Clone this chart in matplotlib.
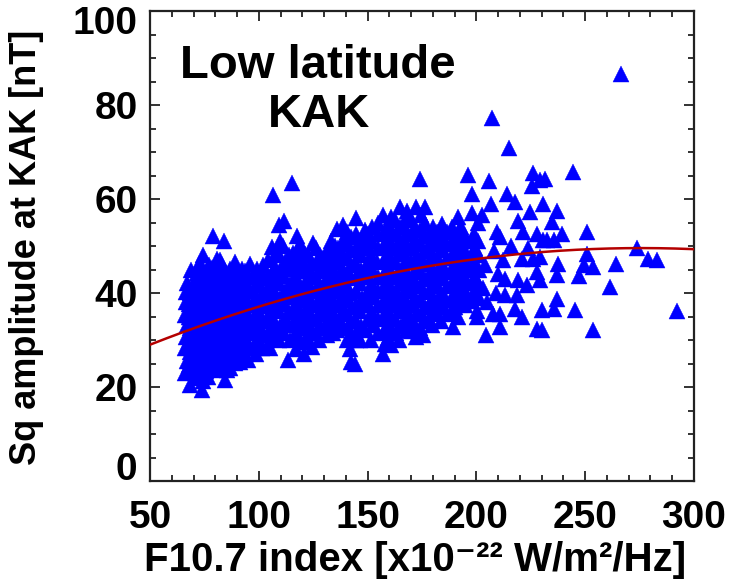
import numpy as np
import matplotlib
matplotlib.use("Agg")
import matplotlib.pyplot as plt
from matplotlib.ticker import MultipleLocator
from matplotlib.transforms import ScaledTranslation

plt.rcParams['font.family'] = ['Liberation Sans', 'DejaVu Sans']
plt.rcParams['font.weight'] = 'bold'

# ---- data (F10.7 index, Sq amplitude at KAK) ----
f107_low = [
    66.3, 66.8, 65.9, 66.5, 67.0, 66.2, 66.7, 66.4, 67.2,
    68.4, 69.2, 68.8, 69.5, 68.6, 69.0, 69.4, 68.9, 69.6, 68.7,
    71.5, 72.3, 71.8, 72.6, 71.9, 72.2, 71.6, 72.4, 72.0, 71.7, 72.5,
    73.8, 74.5, 74.2, 74.8, 74.0, 74.6, 74.3, 74.9, 74.1, 74.4, 74.5,
    76.6, 77.3, 76.9, 77.5, 76.8, 77.1, 77.4, 76.7, 77.2,
    79.9, 79.3, 80.0, 79.6, 79.2, 79.8, 79.4, 80.1, 80.6, 79.1,
    81.6, 82.3, 81.9, 82.5, 82.1, 81.7, 82.4, 81.8, 82.2,
    84.5, 85.2, 84.1, 84.8, 84.3, 84.9, 84.2, 84.7, 84.4, 84.2,
    86.6, 87.3, 86.9, 87.4, 86.8, 87.1, 87.5, 86.7,
    89.2, 89.8, 89.4, 89.9, 89.1, 89.6, 89.3, 89.0,
    91.4, 92.3, 91.8, 92.5, 92.0, 91.7, 92.4, 92.1,
    95.2, 96.0, 95.4, 95.8, 95.3, 95.9, 95.6, 96.0,
    98.6, 99.3, 98.9, 99.5, 98.8, 99.2, 99.4,
    101.6, 102.3, 101.9, 102.4, 101.8, 102.2, 102.0,
    103.6, 104.3, 103.9, 104.4, 103.8, 104.2, 104.0,
    105.1, 105.9, 106.4, 105.6, 106.2, 105.8, 106.1, 105.9,
]
sq_low = [
    23.0, 25.5, 28.2, 30.6, 33.1, 35.4, 38.0, 40.3, 42.1,
    20.4, 23.1, 26.0, 28.4, 31.2, 33.6, 36.1, 38.7, 41.2, 45.0,
    22.2, 24.6, 27.1, 29.4, 32.0, 34.7, 37.2, 39.6, 42.1, 44.3, 46.2,
    19.3, 21.2, 24.1, 27.0, 30.1, 33.0, 36.2, 39.1, 42.0, 45.1, 48.0,
    22.1, 25.0, 28.1, 31.0, 34.1, 37.0, 40.2, 43.1, 46.0,
    23.6, 26.1, 29.0, 32.2, 35.0, 38.1, 41.0, 44.2, 47.3, 52.1,
    24.0, 27.1, 30.0, 33.2, 36.0, 39.1, 42.1, 45.0, 47.1,
    21.4, 23.6, 26.5, 29.6, 32.4, 35.6, 38.5, 41.4, 44.6, 51.1,
    24.1, 27.0, 30.2, 33.0, 36.1, 39.0, 42.2, 45.1,
    25.1, 28.0, 31.1, 34.0, 37.1, 40.0, 43.2, 46.6,
    25.3, 28.1, 31.0, 34.2, 37.0, 40.1, 43.0, 45.2,
    25.7, 28.5, 31.6, 34.4, 37.6, 40.4, 43.5, 46.2,
    27.1, 30.0, 33.1, 36.0, 39.2, 42.0, 45.1,
    28.2, 31.1, 34.0, 37.2, 40.0, 43.1, 46.0,
    28.5, 31.5, 34.6, 37.4, 40.6, 43.4, 47.1,
    28.2, 49.7, 60.9, 32.1, 35.0, 38.1, 41.0, 44.2,
]

f107_mid = [
    109.4, 109.8, 109.2, 109.7, 109.3, 109.9, 109.5, 109.6, 109.4,
    111.3, 111.6,
    113.6, 114.3, 113.9, 114.1, 113.7, 114.2, 113.8, 114.0,
    115.1,
    117.0, 117.6, 117.2, 117.8, 117.1, 117.5, 117.3, 117.7, 117.4,
    120.6, 121.3, 120.9, 121.4, 120.8, 121.2, 120.7, 121.1,
    124.3, 124.8, 124.4, 124.9, 124.2, 124.7, 124.5, 125.0,
    127.6, 128.3, 127.9, 128.4, 127.8, 128.2, 128.0,
    131.2, 131.8, 131.4, 131.9, 131.3, 131.7, 131.5,
    134.2, 135.8, 135.1, 134.7, 135.3, 134.9, 135.5, 135.0, 135.8,
    138.3, 138.9, 138.5, 139.0, 138.4, 138.8, 138.6, 138.6,
    142.4, 142.1, 142.7, 142.3, 142.8, 142.0, 142.6, 142.2, 142.5, 142.4,
    144.2, 144.7, 144.5,
    146.5, 147.1, 146.7, 147.2, 146.6, 147.0, 146.8, 146.9,
    148.8, 149.1, 148.6, 149.0, 148.7,
    151.6, 152.3, 151.9, 152.4, 151.8, 152.2, 151.7, 152.1, 152.0,
    157.2, 157.9, 157.4, 157.8, 157.3, 157.7, 157.5, 157.6, 157.4, 157.8, 157.2,
    160.6, 161.3, 160.9, 161.4, 160.8, 161.2, 160.7, 161.1, 161.0, 160.9,
    164.6, 165.2, 164.8, 165.3, 164.7, 165.1, 164.9, 165.0, 164.8, 164.9,
    168.0, 168.3, 167.8, 168.4, 167.9, 168.2, 167.7, 168.1, 168.0, 168.2,
    172.2, 172.0, 172.5, 171.9, 172.4, 172.1, 172.6, 172.3, 172.0, 172.2,
    174.1,
    175.6, 176.2, 176.5, 176.0, 176.4, 176.1, 176.6, 176.2, 176.3, 176.3,
    179.7, 180.3, 179.9, 180.4, 179.8, 180.2, 180.0, 180.1,
    183.7, 184.3, 183.9, 184.4, 183.8, 184.2, 184.1, 184.0,
    189.1, 188.6, 188.4, 188.9, 188.5, 189.0, 188.7, 188.8,
    191.4, 192.0, 191.6, 192.1, 191.5, 191.9, 191.7, 191.7,
    194.8, 195.1, 194.6, 195.0, 194.7, 194.9, 195.5,
    196.3,
    197.8, 197.5, 198.1, 197.6, 198.0, 197.7, 197.9, 197.8,
    200.8, 200.5, 201.1, 200.6, 201.0, 200.7, 200.9, 200.1,
]
sq_mid = [
    30.1, 33.0, 36.1, 39.0, 42.2, 45.0, 48.1, 51.0, 54.4,
    50.1, 55.4,
    25.7, 29.9, 33.1, 36.0, 39.2, 42.0, 45.1, 48.0,
    63.5,
    28.1, 31.0, 34.2, 37.0, 40.1, 43.0, 46.2, 49.0, 52.2,
    27.0, 30.1, 33.0, 36.2, 39.0, 42.1, 45.0, 48.2,
    28.5, 31.5, 34.6, 37.4, 40.5, 43.6, 46.4, 50.7,
    30.0, 33.1, 36.0, 39.2, 42.0, 45.1, 48.0,
    31.0, 34.1, 37.0, 40.2, 43.0, 46.1, 49.0,
    31.4, 32.1, 35.0, 38.1, 41.0, 44.2, 47.0, 50.1, 53.6,
    33.1, 36.0, 39.2, 42.0, 45.1, 48.0, 51.1, 54.4,
    25.3, 28.0, 31.1, 34.0, 37.1, 40.0, 43.2, 46.0, 49.1, 52.0,
    25.0, 56.0, 29.9,
    29.9, 33.0, 36.1, 39.0, 42.2, 45.0, 48.1, 51.0,
    53.4, 50.0, 44.1, 38.0, 32.2,
    30.0, 33.1, 36.0, 39.2, 42.0, 45.1, 48.0, 51.1, 54.0,
    27.1, 29.2, 32.0, 35.1, 38.0, 41.2, 44.0, 47.1, 50.0, 53.1, 56.7,
    29.0, 32.1, 35.0, 38.2, 41.0, 44.1, 47.0, 50.2, 53.0, 56.1,
    30.1, 33.0, 36.2, 39.0, 42.1, 45.0, 48.2, 51.0, 54.1, 58.2,
    32.1, 35.0, 38.1, 41.0, 44.2, 47.0, 50.1, 53.0, 56.1, 57.5,
    30.6, 33.1, 36.0, 39.2, 42.0, 45.1, 48.0, 51.1, 54.0, 58.2,
    64.3,
    31.0, 34.1, 37.0, 40.2, 43.0, 46.1, 49.0, 52.2, 55.0, 58.2,
    33.1, 36.0, 39.2, 42.0, 45.1, 48.0, 51.1, 54.0,
    34.0, 37.1, 40.0, 43.2, 46.0, 49.1, 52.0, 54.7,
    32.8, 39.1, 36.0, 42.2, 45.0, 48.1, 51.0, 54.0,
    35.0, 38.1, 41.0, 44.2, 47.0, 50.1, 53.0, 56.1,
    37.4, 40.1, 43.0, 46.2, 49.0, 52.1, 42.3,
    65.2,
    61.1, 39.0, 42.1, 45.0, 48.2, 51.0, 57.0, 38.4,
    55.0, 36.1, 39.0, 42.2, 45.0, 48.1, 51.0, 34.9,
]

# points hidden inside the dense core of the cloud
f107_core = [
    68.0, 68.3, 67.8, 68.2, 68.1, 67.9, 68.3,
    70.5, 70.8, 70.3, 70.7, 70.4, 70.6, 70.2, 70.8, 70.5,
    73.2, 73.0, 73.4, 73.1, 73.3, 72.9, 73.2, 73.4,
    75.8, 76.0, 75.6, 75.9, 75.7, 76.1, 75.8, 75.6,
    78.3, 78.1, 78.5, 78.2, 78.4, 78.0, 78.3, 78.5,
    80.8, 81.0, 80.6, 80.9, 80.7, 81.1, 80.8,
    83.2, 83.4, 83.0, 83.3, 83.1, 83.5, 83.2, 83.0,
    85.8, 86.0, 85.6, 85.9, 85.7, 86.1, 85.8,
    88.3, 88.1, 88.5, 88.2, 88.4, 88.0, 88.3,
    90.8, 91.0, 90.6, 90.9, 90.7, 91.1, 90.8,
    93.7, 93.5, 93.9, 93.6, 93.8, 93.4, 93.7,
    97.3, 97.1, 97.5, 97.2, 97.4, 97.0,
    100.5, 100.7, 100.3, 100.6, 100.4, 100.8,
    107.8, 107.6, 108.0, 107.7, 107.9, 107.5, 107.8,
    111.8, 112.0, 111.6, 111.9, 111.7, 112.1,
    115.7, 115.5, 115.9, 115.6, 115.8, 115.4, 115.7,
    119.2, 119.4, 119.0, 119.3, 119.1, 119.5, 119.2, 119.0,
    122.8, 122.6, 123.0, 122.7, 122.9, 122.5, 122.8,
    126.3, 126.5, 126.1, 126.4, 126.2, 126.6, 126.3,
    129.8, 129.6, 130.0, 129.7, 129.9, 129.5,
    133.2, 133.4, 133.0, 133.3, 133.1, 133.5, 133.2,
    136.8, 136.6, 137.0, 136.7, 136.9, 136.5,
    140.5, 140.7, 140.3, 140.6, 140.4, 140.8, 140.5, 140.3, 140.6,
    144.6, 144.4, 144.8, 144.5, 144.7, 144.3, 144.6, 144.8,
    150.2, 150.4, 150.0, 150.3, 150.1, 150.5, 150.2,
    154.8, 154.6, 155.0, 154.7, 154.9, 154.5, 154.8, 155.0, 154.6,
    159.2, 159.4, 159.0, 159.3, 159.1, 159.5, 159.2, 159.0, 159.4,
    163.0, 162.8, 163.2, 162.9, 163.1, 162.7, 163.0, 163.2, 162.8,
    166.5, 166.7, 166.3, 166.6, 166.4, 166.8, 166.5, 166.3,
    170.1, 169.9, 170.3, 170.0, 170.2, 169.8, 170.1, 170.3, 169.9,
    174.2, 174.4, 174.0, 174.3, 174.1, 174.5, 174.2, 174.0, 174.4,
    178.2, 178.0, 178.4, 178.1, 178.3, 177.9, 178.2,
    182.0, 182.2, 181.8, 182.1, 181.9, 182.3, 182.0,
    186.3, 186.1, 186.5, 186.2, 186.4, 186.0, 186.3,
    190.2, 190.4, 190.0, 190.3, 190.1, 190.5,
    193.3, 193.1, 193.5, 193.2, 193.4, 193.0,
    199.2, 199.4, 199.0, 199.3, 199.1,
]
sq_core = [
    24.6, 27.4, 29.8, 32.5, 35.0, 37.6, 40.0,
    22.0, 24.8, 27.5, 30.2, 32.7, 35.2, 37.8, 40.3, 42.7,
    22.8, 25.6, 28.4, 31.5, 34.6, 37.8, 40.6, 43.6,
    23.5, 26.4, 29.4, 32.6, 35.5, 38.6, 41.5, 44.5,
    24.4, 27.5, 30.5, 33.6, 36.4, 39.6, 42.5, 45.4,
    25.2, 28.4, 31.5, 34.6, 37.5, 40.5, 43.5,
    25.0, 28.2, 31.0, 34.1, 37.0, 40.0, 43.1, 46.0,
    25.5, 28.5, 31.5, 34.6, 37.5, 40.5, 43.6,
    26.5, 29.5, 32.6, 35.5, 38.6, 41.5, 44.5,
    26.7, 29.6, 32.5, 35.6, 38.5, 41.6, 44.4,
    27.0, 29.8, 32.7, 35.8, 38.7, 41.7, 44.6,
    28.4, 31.5, 34.5, 37.5, 40.6, 43.5,
    29.5, 32.5, 35.6, 38.5, 41.6, 44.5,
    30.5, 33.5, 36.6, 39.5, 42.6, 45.5, 48.5,
    31.5, 34.5, 37.6, 40.5, 43.6, 46.5,
    30.5, 33.5, 36.6, 39.5, 42.6, 45.5, 48.6,
    29.5, 32.6, 35.5, 38.6, 41.5, 44.6, 47.5, 50.4,
    30.0, 33.0, 36.0, 39.0, 42.0, 45.0, 48.0,
    31.5, 34.5, 37.5, 40.6, 43.5, 46.5, 49.5,
    32.5, 35.5, 38.5, 41.5, 44.6, 47.5,
    33.0, 36.0, 39.0, 42.0, 45.0, 48.0, 51.0,
    34.5, 37.5, 40.5, 43.5, 46.5, 49.5,
    30.0, 32.5, 35.5, 38.5, 41.5, 44.5, 47.5, 50.5, 53.0,
    31.5, 34.5, 37.5, 40.5, 43.5, 46.5, 49.5, 52.5,
    34.5, 37.5, 40.5, 43.5, 46.5, 49.5, 52.5,
    31.5, 34.5, 37.5, 40.5, 43.5, 46.5, 49.5, 52.5, 55.0,
    30.5, 33.5, 36.5, 39.5, 42.5, 45.5, 48.5, 51.5, 54.5,
    31.5, 34.5, 37.5, 40.5, 43.5, 46.5, 49.5, 52.5, 55.5,
    33.5, 36.5, 39.5, 42.5, 45.5, 48.5, 51.5, 54.5,
    32.0, 34.5, 37.5, 40.5, 43.5, 46.5, 49.5, 52.5, 55.5,
    32.5, 35.5, 38.5, 41.5, 44.5, 47.5, 50.5, 53.5, 56.5,
    34.5, 37.5, 40.5, 43.5, 46.5, 49.5, 52.5,
    35.5, 38.5, 41.5, 44.5, 47.5, 50.5, 53.0,
    35.5, 38.5, 41.5, 44.5, 47.5, 50.5, 53.0,
    37.0, 40.0, 43.0, 46.0, 49.0, 52.0,
    39.0, 42.0, 45.0, 48.0, 51.0, 54.0,
    40.5, 43.5, 46.5, 49.5, 52.5,
]

f107_high = [
    204.0, 208.0, 203.0, 210.0, 205.0, 212.0, 202.5, 209.0, 204.6, 207.6,
    206.0, 207.0, 206.5, 209.3, 210.8, 210.8, 210.8, 213.1, 213.1, 213.9,
    215.1, 217.7, 217.7, 218.5, 219.3, 219.3, 220.8, 220.8, 221.6, 223.1,
    224.6, 225.4, 226.2, 226.2, 227.7, 227.7, 227.7, 229.2, 229.2, 229.2,
    230.0, 230.0, 230.7, 230.6, 231.5, 232.5, 234.6, 235.6, 235.7, 236.9,
    237.2, 237.2, 237.7, 239.4, 244.2, 245.3, 247.3, 249.5, 250.7, 251.0,
    253.7, 253.7, 261.2, 264.3, 266.3, 273.6, 279.0, 282.9, 292.4,
    216.0, 223.5,
]
sq_high = [
    46.0, 49.0, 41.0, 44.0, 38.0, 47.0, 56.5, 40.0, 31.0, 35.6,
    63.9, 77.3, 59.0, 52.9, 51.9, 35.6, 32.8, 43.0, 39.5, 61.1,
    70.8, 59.3, 36.7, 39.5, 42.7, 55.4, 47.3, 34.9, 52.9, 41.6,
    57.2, 62.8, 65.5, 47.3, 44.4, 52.6, 32.4, 64.1, 47.6, 42.7,
    32.1, 36.3, 59.0, 51.2, 64.3, 51.2, 55.1, 51.2, 36.7, 57.5,
    43.9, 38.8, 46.2, 52.6, 65.7, 36.3, 43.7, 45.9, 52.9, 48.3,
    45.5, 32.1, 41.3, 46.2, 86.7, 49.6, 47.3, 47.1, 36.2,
    50.0, 49.5,
]

# red fit curve
fit_f107 = [50, 105, 137, 165, 200, 234, 266, 300]
fit_sq = [29.0, 37.7, 42.0, 44.5, 47.2, 48.8, 49.6, 49.3]

x_ticks = [50, 100, 150, 200, 250, 300]
y_ticks = [0, 20, 40, 60, 80, 100]

# ---- figure ----
fig = plt.figure(figsize=(7.31, 5.80), dpi=100)
ax = fig.add_axes([150 / 731, 1 - 481 / 580, 544 / 731, 470 / 580])

f107 = np.array(f107_low + f107_core + f107_mid + f107_high)
sq = np.array(sq_low + sq_core + sq_mid + sq_high)
ax.plot(f107, sq, linestyle='none', marker='^', markersize=11.5,
        markerfacecolor='#0000FF', markeredgecolor='#0000FF',
        markeredgewidth=0.3, zorder=2)

coef = np.polyfit(fit_f107, fit_sq, 2)
xx = np.linspace(50, 300, 200)
ax.plot(xx, np.polyval(coef, xx), color='#B40000', lw=1.8, zorder=3)

ax.set_xlim(50, 300)
ax.set_ylim(0, 100)
ax.set_xticks(x_ticks)
ax.set_yticks(y_ticks)
ax.xaxis.set_minor_locator(MultipleLocator(10))
ax.yaxis.set_minor_locator(MultipleLocator(5))
ax.tick_params(which='both', direction='in', top=True, right=True,
               width=1.3, color='#222222')
ax.tick_params(which='major', length=7.5)
ax.tick_params(which='minor', length=4.3)
ax.tick_params(axis='x', which='major', labelsize=28, pad=14)
ax.tick_params(axis='y', which='major', labelsize=28, pad=9)
for lab in ax.get_xticklabels() + ax.get_yticklabels():
    lab.set_fontweight('bold')
for sp in ax.spines.values():
    sp.set_linewidth(1.6)
    sp.set_color('#222222')

# IDL-style end label shifts
ylabs = ax.get_yticklabels()
ylabs[0].set_transform(ylabs[0].get_transform() +
                       ScaledTranslation(0, 0.15, fig.dpi_scale_trans))
ylabs[-1].set_transform(ylabs[-1].get_transform() +
                        ScaledTranslation(0, -0.09, fig.dpi_scale_trans))

fig.text(415 / 731, 1 - 571 / 580,
         'F10.7 index [x10\u207b\u00b2\u00b2 W/m\u00b2/Hz]',
         ha='center', va='baseline', fontsize=29, fontweight='bold')
fig.text(27 / 731, 1 - 247 / 580, 'Sq amplitude at KAK [nT]',
         rotation=90, ha='center', va='center', fontsize=26,
         fontweight='bold')

ax.text(0.309, 0.857, 'Low latitude', transform=ax.transAxes,
        ha='center', va='baseline', fontsize=34, fontweight='bold')
ax.text(0.311, 0.753, 'KAK', transform=ax.transAxes,
        ha='center', va='baseline', fontsize=34, fontweight='bold')

fig.savefig('out.png', dpi=100)
